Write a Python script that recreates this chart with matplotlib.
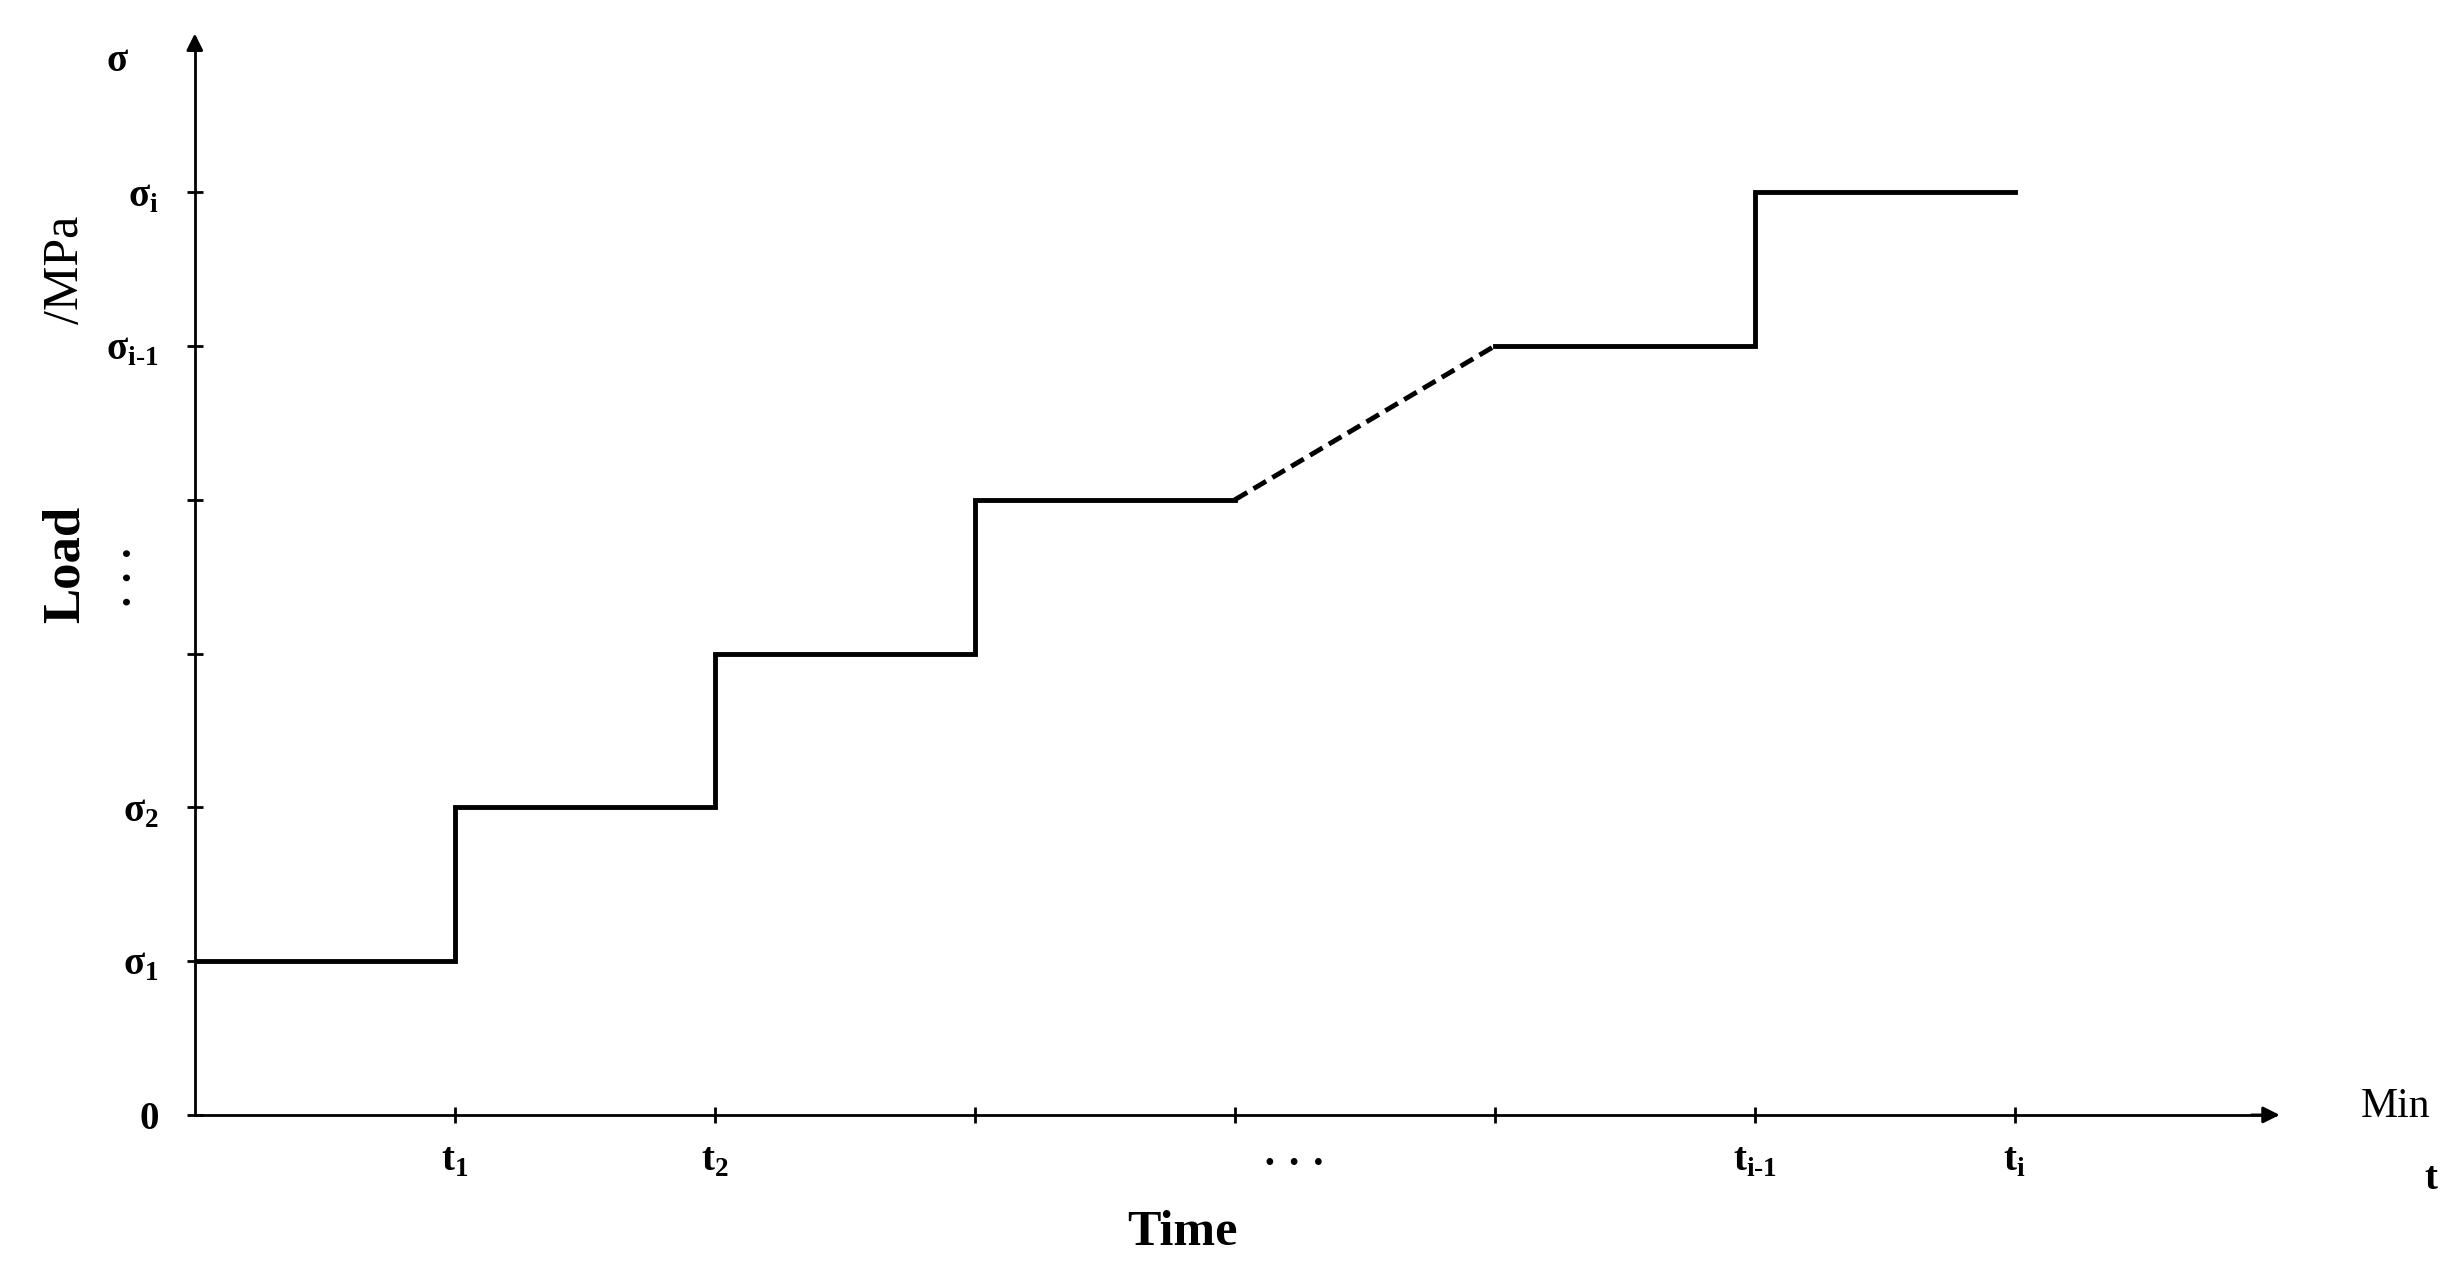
import matplotlib
matplotlib.use("Agg")
import matplotlib.pyplot as plt

xs_solid = [[0, 1, 1, 2, 2, 3, 3, 4], [5, 6, 6, 7]]
ys_solid = [[1, 1, 2, 2, 3, 3, 4, 4], [5, 5, 6, 6]]
xs_dash = [4, 5]
ys_dash = [4, 5]
xticks = [1, 2, 3, 4, 5, 6, 7]
xlabels = ["t$_\\mathbf{1}$", "t$_\\mathbf{2}$", "", "", "", "t$_\\mathbf{i\\text{-}1}$", "t$_\\mathbf{i}$"]
yticks = [0, 1, 2, 3, 4, 5, 6]
ylabels = ["0", "σ$_\\mathbf{1}$", "σ$_\\mathbf{2}$", "", "", "σ$_\\mathbf{i\\text{-}1}$", "σ$_\\mathbf{i}$"]

plt.rcParams['font.family'] = ['Liberation Serif', 'DejaVu Serif']
plt.rcParams['mathtext.fontset'] = 'custom'
plt.rcParams['mathtext.rm'] = 'Liberation Serif'
plt.rcParams['mathtext.bf'] = 'Liberation Serif:bold'

fig = plt.figure(figsize=(24.44, 12.83), dpi=100)
ax = fig.add_axes([0.0797, 0.131, 0.851, 0.839])
ax.set_xlim(0, 8)
ax.set_ylim(0, 7)
for xs, ys in zip(xs_solid, ys_solid):
    ax.plot(xs, ys, color='black', lw=3.5, solid_joinstyle='miter')
ax.plot(xs_dash, ys_dash, color='black', lw=3.5, ls=(0, (3, 1.5)))
for s in ['top', 'right']:
    ax.spines[s].set_visible(False)
for s in ['left', 'bottom']:
    ax.spines[s].set_linewidth(2)
ax.annotate('', xy=(8.03, 0), xytext=(7.9, 0), xycoords='data',
            arrowprops=dict(arrowstyle='-|>', color='black', lw=2, mutation_scale=25), annotation_clip=False)
ax.annotate('', xy=(0, 7.05), xytext=(0, 6.9),
            arrowprops=dict(arrowstyle='-|>', color='black', lw=2, mutation_scale=25), annotation_clip=False)
ax.set_xticks(xticks)
ax.set_xticklabels(xlabels, fontsize=28, fontweight='bold')
ax.set_yticks(yticks)
ax.set_yticklabels(ylabels, fontsize=28, fontweight='bold')
ax.tick_params(axis='both', direction='inout', length=12, width=2, pad=14)
ax.tick_params(axis='y', pad=20)
ax.text(4.23, -0.33, "· · ·", fontsize=30, ha='center', va='center', fontweight='bold')
ax.text(8.6, -0.42, "t", fontsize=28, ha='center', va='center', fontweight='bold')
ax.text(8.33, 0.05, "Min", fontsize=30, ha='left', va='center')
ax.text(3.8, -0.77, "Time", fontsize=36, ha='center', va='center', fontweight='bold')
ax.text(-0.3, 6.85, "σ", fontsize=28, ha='center', va='center', fontweight='bold')
ax.text(-0.24, 3.5, "· · ·", fontsize=30, ha='center', va='center', rotation=90, fontweight='bold')
fig.text(0.027, 0.56, "Load", fontsize=38, fontweight='bold', rotation=90, ha='center', va='center')
fig.text(0.027, 0.79, "/MPa", fontsize=36, rotation=90, ha='center', va='center')
fig.savefig("out.png", dpi=100, facecolor='white')
